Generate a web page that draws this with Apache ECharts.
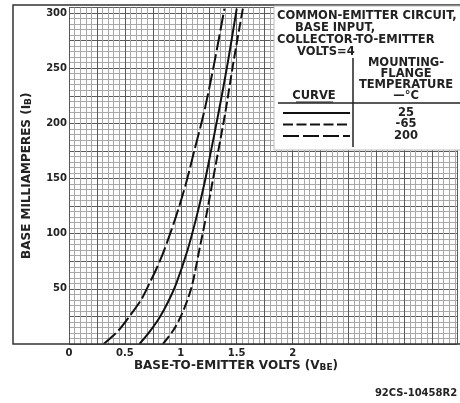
<!DOCTYPE html>
<html><head><meta charset="utf-8">
<script src="https://cdn.jsdelivr.net/npm/echarts@6/dist/echarts.min.js"></script>
<style>html,body{margin:0;padding:0;background:#fff}#c{width:460px;height:403px}</style>
</head><body><div id="c"></div>
<script>
// Base-to-emitter volts vs base milliamperes, by mounting-flange temperature
const curve200 = [[0.31,0],[0.44,12],[0.54,25],[0.645,40],[0.72,55],[0.79,70],[0.855,86],[0.955,115],[1.045,145],[1.12,175],[1.21,211],[1.30,255],[1.39,304]];
const curve25  = [[0.63,0],[0.72,11],[0.81,24],[0.89,39],[0.96,55],[1.06,85],[1.14,115],[1.21,145],[1.27,175],[1.34,211],[1.42,255],[1.50,304]];
const curveM65 = [[0.84,0],[0.93,12],[1.00,25],[1.06,40],[1.105,55],[1.165,85],[1.225,115],[1.28,145],[1.335,175],[1.40,211],[1.47,255],[1.555,304]];
const xTickLabels = [0, 0.5, 1, 1.5, 2];
const yTickLabels = [50, 100, 150, 200, 250, 300];
const legendRows = [
  {name: '25', dash: 'solid'},
  {name: '-65', dash: [10, 3.5]},
  {name: '200', dash: [16, 4]}
];

const FONT = 'DejaVu Sans';
const chart = echarts.init(document.getElementById('c'), null, {renderer: 'canvas'});

function near(v, list){ return list.find(t => Math.abs(t - v) < 1e-6); }

const series = [
  {name: '200', data: curve200, dash: [16, 4]},
  {name: '25', data: curve25, dash: 'solid'},
  {name: '-65', data: curveM65, dash: [10, 3.5]}
].map(s => ({
  name: s.name, type: 'line', data: s.data, smooth: 0.3, symbol: 'none', clip: true,
  lineStyle: {color: '#111', width: 2, type: s.dash}, z: 5
}));

const LX = 274, LY = 5;
const txt = (text, x, y, align, size) => ({
  type: 'text', z: 20, silent: true,
  style: {text, x, y, font: 'bold ' + (size || 11.5) + 'px "' + FONT + '"', fill: '#222',
          textAlign: align || 'left', textVerticalAlign: 'middle'}
});
const graphics = [
  {type: 'rect', z: 15, silent: true, shape: {x: 13, y: 5, width: 460, height: 339},
   style: {fill: 'none', stroke: '#333', lineWidth: 1.5}},
  {type: 'rect', z: 16, silent: true, shape: {x: LX, y: LY + 1, width: 200, height: 144},
   style: {fill: '#fff', stroke: '#bbb', lineWidth: 1}},
  txt('COMMON-EMITTER CIRCUIT,', 277, 16),
  txt('BASE INPUT,', 295, 28),
  txt('COLLECTOR-TO-EMITTER', 277, 40),
  txt('VOLTS=4', 297, 52),
  txt('MOUNTING-', 406, 63, 'center'),
  txt('FLANGE', 406, 74, 'center'),
  txt('TEMPERATURE', 406, 85, 'center'),
  txt('\u2014\u00B0C', 406, 96, 'center'),
  txt('CURVE', 314, 96, 'center'),
  {type: 'line', z: 20, silent: true, shape: {x1: 296, y1: 102, x2: 333, y2: 102}, style: {stroke: '#222', lineWidth: 1}},
  {type: 'line', z: 20, silent: true, shape: {x1: 278, y1: 103, x2: 460, y2: 103}, style: {stroke: '#222', lineWidth: 1.5}},
  {type: 'line', z: 20, silent: true, shape: {x1: 353, y1: 58, x2: 353, y2: 147}, style: {stroke: '#222', lineWidth: 1.5}},
  txt('92CS-10458R2', 416, 393, 'center', 10),
  {type: 'text', z: 20, silent: true,
   style: {text: '{t|BASE-TO-EMITTER VOLTS (V}{s|BE}{t|)}', x: 236, y: 366, textAlign: 'center', textVerticalAlign: 'middle',
           rich: {t: {font: 'bold 12px "' + FONT + '"', fill: '#222'}, s: {font: 'bold 9px "' + FONT + '"', fill: '#222', padding: [4,0,0,0]}}}}
];
legendRows.forEach((r, i) => {
  const y = 113 + i * 11.5;
  graphics.push({type: 'line', z: 20, silent: true, shape: {x1: 283, y1: y, x2: 350, y2: y},
    style: {stroke: '#111', lineWidth: 2.2, lineDash: r.dash === 'solid' ? null : r.dash}});
  graphics.push(txt(r.name, 406, y, 'center'));
});

chart.setOption({
  animation: false,
  backgroundColor: '#fff',
  grid: {left: 69, right: 0, top: 7.5, bottom: 59, containLabel: false},
  xAxis: {
    type: 'value', min: 0, max: 3.47, interval: 0.25,
    axisLine: {show: false}, axisTick: {show: false},
    axisLabel: {margin: 4, color: '#222', fontFamily: FONT, fontWeight: 'bold', fontSize: 10,
      showMaxLabel: true, showMinLabel: true,
      formatter: v => { const t = near(v, xTickLabels); return t === undefined ? '' : String(t); }},
    splitLine: {show: true, lineStyle: {color: '#5a5a5a', width: 1}},
    minorTick: {show: false, splitNumber: 5},
    minorSplitLine: {show: true, lineStyle: {color: '#a8a8a8', width: 1}}
  },
  yAxis: {
    type: 'value', min: 0, max: 305, interval: 25,
    axisLine: {show: false}, axisTick: {show: false},
    axisLabel: {margin: 2, color: '#222', fontFamily: FONT, fontWeight: 'bold', fontSize: 10,
      formatter: v => { const t = near(v, yTickLabels); return t === undefined ? '' : String(t); }},
    splitLine: {show: true, lineStyle: {color: '#5a5a5a', width: 1}},
    minorTick: {show: false, splitNumber: 5},
    minorSplitLine: {show: true, lineStyle: {color: '#a8a8a8', width: 1}},
    name: '{t|BASE MILLIAMPERES (I}{s|B}{t|)}', nameLocation: 'middle', nameGap: 36, nameRotate: 90,
    nameTextStyle: {rich: {t: {fontFamily: FONT, fontWeight: 'bold', fontSize: 12, color: '#222'},
                           s: {fontFamily: FONT, fontWeight: 'bold', fontSize: 9, color: '#222', padding: [4,0,0,0]}}}
  },
  series: series,
  graphic: graphics
});
</script></body></html>
